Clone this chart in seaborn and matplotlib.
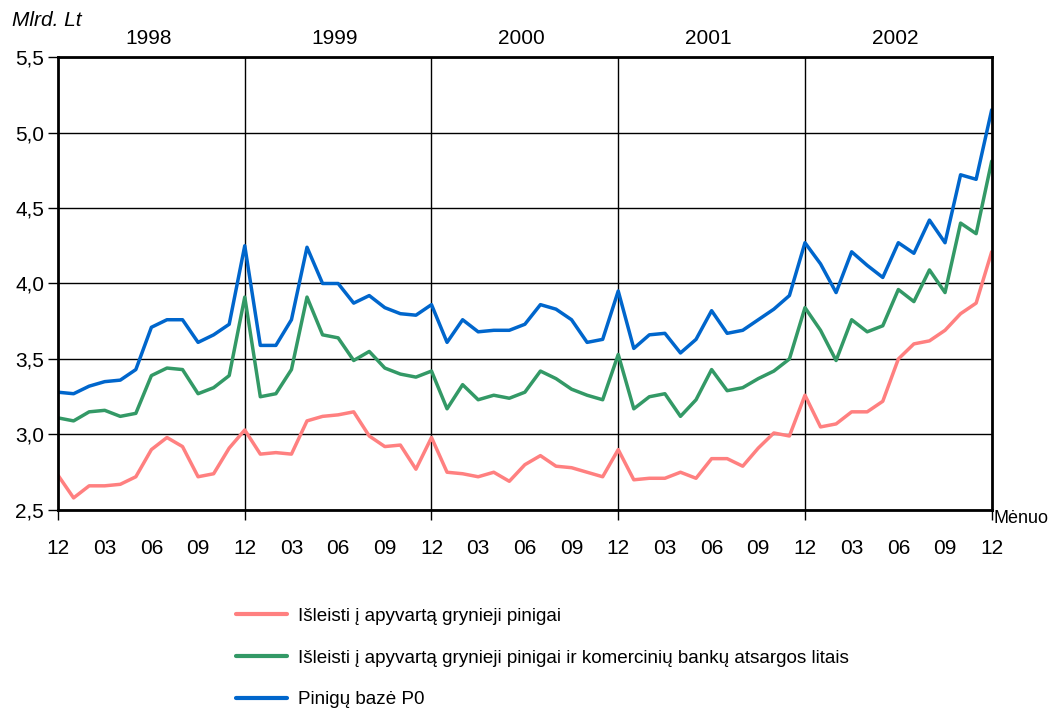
import numpy as np
import pandas as pd
import matplotlib
matplotlib.use('Agg')
import matplotlib.pyplot as plt
import seaborn as sns
from matplotlib.ticker import FixedLocator, FuncFormatter

# monthly values, 1997-12 .. 2002-12 (mlrd. Lt)
months = pd.period_range('1997-12', '2002-12', freq='M')

cash = [2.73, 2.58, 2.66, 2.66, 2.67, 2.72, 2.90, 2.98, 2.92, 2.72, 2.74, 2.91,
        3.03, 2.87, 2.88, 2.87, 3.09, 3.12, 3.13, 3.15, 2.99, 2.92, 2.93, 2.77,
        2.98, 2.75, 2.74, 2.72, 2.75, 2.69, 2.80, 2.86, 2.79, 2.78, 2.75, 2.72,
        2.90, 2.70, 2.71, 2.71, 2.75, 2.71, 2.84, 2.84, 2.79, 2.91, 3.01, 2.99,
        3.26, 3.05, 3.07, 3.15, 3.15, 3.22, 3.50, 3.60, 3.62, 3.69, 3.80, 3.87,
        4.21]

cash_reserves = [3.11, 3.09, 3.15, 3.16, 3.12, 3.14, 3.39, 3.44, 3.43, 3.27, 3.31, 3.39,
                 3.91, 3.25, 3.27, 3.43, 3.91, 3.66, 3.64, 3.49, 3.55, 3.44, 3.40, 3.38,
                 3.42, 3.17, 3.33, 3.23, 3.26, 3.24, 3.28, 3.42, 3.37, 3.30, 3.26, 3.23,
                 3.53, 3.17, 3.25, 3.27, 3.12, 3.23, 3.43, 3.29, 3.31, 3.37, 3.42, 3.50,
                 3.84, 3.69, 3.49, 3.76, 3.68, 3.72, 3.96, 3.88, 4.09, 3.94, 4.40, 4.33,
                 4.81]

base_p0 = [3.28, 3.27, 3.32, 3.35, 3.36, 3.43, 3.71, 3.76, 3.76, 3.61, 3.66, 3.73,
           4.25, 3.59, 3.59, 3.76, 4.24, 4.00, 4.00, 3.87, 3.92, 3.84, 3.80, 3.79,
           3.86, 3.61, 3.76, 3.68, 3.69, 3.69, 3.73, 3.86, 3.83, 3.76, 3.61, 3.63,
           3.95, 3.57, 3.66, 3.67, 3.54, 3.63, 3.82, 3.67, 3.69, 3.76, 3.83, 3.92,
           4.27, 4.13, 3.94, 4.21, 4.12, 4.04, 4.27, 4.20, 4.42, 4.27, 4.72, 4.69,
           5.15]

series_names = ['Išleisti į apyvartą grynieji pinigai',
                'Išleisti į apyvartą grynieji pinigai ir komercinių bankų atsargos litais',
                'Pinigų bazė P0']
years = ['1998', '1999', '2000', '2001', '2002']
colors = ['#ff8080', '#339966', '#0066cc']

df = pd.DataFrame({'t': np.arange(len(months)), 'month': months.strftime('%m')})
df[series_names[0]] = cash
df[series_names[1]] = cash_reserves
df[series_names[2]] = base_p0
long_df = df.melt(id_vars=['t', 'month'], var_name='series', value_name='value')

sns.set_theme(style='white')
plt.rcParams['font.family'] = ['Liberation Sans', 'DejaVu Sans']
plt.rcParams['text.color'] = 'black'
plt.rcParams['xtick.color'] = 'black'
plt.rcParams['ytick.color'] = 'black'

fs = 15

fig = plt.figure(figsize=(10.55, 7.09), dpi=100)
ax = fig.add_axes([0.055, 0.2807, 0.885, 0.6389])

sns.lineplot(data=long_df, x='t', y='value', hue='series', hue_order=series_names,
             palette=colors, linewidth=2.5, ax=ax, legend=False)

ax.set_xlim(0, len(months) - 1)
ax.set_ylim(2.5, 5.5)
ax.set_xlabel('')
ax.set_ylabel('')

# y axis
ax.set_yticks(np.arange(2.5, 5.51, 0.5))
ax.yaxis.set_major_formatter(FuncFormatter(lambda v, p: f'{v:.1f}'.replace('.', ',')))
ax.tick_params(axis='y', length=7, width=1, color='black', labelcolor='black',
               labelsize=fs, pad=3, left=True)
ax.grid(axis='y', color='black', linewidth=1)

# x axis: year boundaries as major ticks, month labels every 3 months
year_ticks = list(range(0, len(months), 12))
ax.xaxis.remove_overlapping_locs = False
ax.xaxis.set_major_locator(FixedLocator(year_ticks))
ax.xaxis.set_major_formatter(FuncFormatter(lambda v, p: ''))
ax.tick_params(axis='x', which='major', length=7, width=1, color='black', bottom=True)
label_ticks = list(range(0, len(months), 3))
ax.xaxis.set_minor_locator(FixedLocator(label_ticks))
ax.xaxis.set_minor_formatter(FuncFormatter(lambda v, p: df['month'].iloc[int(v)]))
ax.tick_params(axis='x', which='minor', length=0, labelsize=fs, labelcolor='black',
               pad=21, bottom=True)
for t in year_ticks[1:-1]:
    ax.axvline(t, color='black', linewidth=1, zorder=0.5)
ax.set_axisbelow(True)

for s in ax.spines.values():
    s.set_visible(True)
    s.set_color('black')
    s.set_linewidth(2)

# year labels above the plot
for i, yr in enumerate(years):
    ax.text(5.8 + 12 * i, 1.04, yr, transform=ax.get_xaxis_transform(),
            ha='center', va='center', fontsize=fs)

fig.text(0.011, 0.971, 'Mlrd. Lt', fontsize=fs, style='italic', ha='left', va='center')
fig.text(0.942, 0.269, 'Mėnuo', fontsize=13, ha='left', va='center')

handles = [plt.Line2D([], [], color=c, linewidth=3) for c in colors]
fig.legend(handles, series_names, loc='upper left', bbox_to_anchor=(0.2237, 0.143),
           frameon=False, fontsize=13.6, handlelength=2.7, labelspacing=1.3,
           handletextpad=0.58, borderpad=0, borderaxespad=0)

fig.savefig('out.png', dpi=100)
